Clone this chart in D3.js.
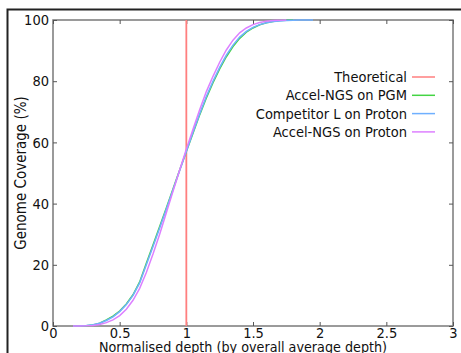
<!DOCTYPE html>
<html>
<head>
<meta charset="utf-8">
<script src="https://cdn.jsdelivr.net/npm/d3@7"></script>
<style>
  html, body { margin: 0; padding: 0; background: #fff; }
  svg { display: block; }
  text { font-family: "DejaVu Sans Condensed", "DejaVu Sans", sans-serif; font-stretch: condensed; fill: #111; }
</style>
</head>
<body>
<svg id="chart" width="461" height="353"></svg>
<script>
// Normalised depth samples for each run
const depthPGM = [0.15,0.2,0.25,0.3,0.35,0.4,0.45,0.5,0.55,0.6,0.65,0.7,0.75,0.8,0.85,0.9,0.95,1.0,1.05,1.1,1.15,1.2,1.25,1.3,1.35,1.4,1.45,1.5,1.55,1.6,1.65,1.7,1.75,1.8];
const coveragePGM = [0,0.05,0.12,0.35,0.9,2.0,3.2,4.9,7.2,10.2,14.4,20.5,26.5,32.5,38.6,44.8,51,57,63,69,74.5,79.5,84,88,91.3,94,96,97.4,98.4,99.1,99.5,99.8,99.95,100];

const depthCompetitor = [0.15,0.2,0.25,0.3,0.35,0.4,0.45,0.5,0.55,0.6,0.65,0.7,0.75,0.8,0.85,0.9,0.95,1.0,1.05,1.1,1.15,1.2,1.25,1.3,1.35,1.4,1.45,1.5,1.55,1.6,1.65,1.7,1.75,1.8,1.85,1.9,1.95];
const coverageCompetitor = [0,0.05,0.15,0.4,0.9,1.8,3.0,4.7,7.0,10,14.1,20,26,32,38.2,44.5,50.8,57,63.3,69.3,75,80,84.5,88.5,91.8,94.4,96.3,97.6,98.5,99.1,99.5,99.7,99.85,99.93,99.97,100,100];

const depthProton = [0.15,0.2,0.25,0.3,0.35,0.4,0.45,0.5,0.55,0.6,0.65,0.7,0.75,0.8,0.85,0.9,0.95,1.0,1.05,1.1,1.15,1.2,1.25,1.3,1.35,1.4,1.45,1.5,1.55,1.6,1.65,1.7,1.75];
const coverageProton = [0,0.02,0.06,0.18,0.5,1.1,2.0,3.4,5.5,8.4,12.3,17.5,23.5,30,37,44,51,57.8,64.3,70.7,76.6,81.6,86.2,90.2,93.4,95.8,97.4,98.5,99.2,99.6,99.85,99.95,100];

const theoreticalDepth = 1.0;

const seriesNames = ["Theoretical", "Accel-NGS on PGM", "Competitor L on Proton", "Accel-NGS on Proton"];
const seriesColors = ["#ff7f7f", "#44d444", "#6fb0ff", "#dd80ff"];

const xTicks = [0, 0.5, 1, 1.5, 2, 2.5, 3];
const xTickLabels = ["0", "0.5", "1", "1.5", "2", "2.5", "3"];
const yTicks = [0, 20, 40, 60, 80, 100];

const svg = d3.select("#chart");
const W = 461, H = 353;
const plot = { left: 53, top: 20, right: 453, bottom: 326 };

const x = d3.scaleLinear().domain([0, 3]).range([plot.left, plot.right]);
const y = d3.scaleLinear().domain([0, 100]).range([plot.bottom, plot.top]);

// outer figure frame
svg.append("rect")
  .attr("x", 7.5).attr("y", 9.5)
  .attr("width", W).attr("height", H)
  .attr("fill", "none").attr("stroke", "#222").attr("stroke-width", 2);

// axis frame with inward ticks on all four sides
const frame = svg.append("g");
frame.append("rect")
  .attr("x", plot.left).attr("y", plot.top)
  .attr("width", plot.right - plot.left).attr("height", plot.bottom - plot.top)
  .attr("fill", "none").attr("stroke", "#7a7a7a").attr("stroke-width", 1.5);

const fmt = d => xTickLabels[xTicks.indexOf(d)];

const xBottom = svg.append("g").attr("transform", `translate(0,${plot.bottom})`)
  .call(d3.axisBottom(x).tickValues(xTicks).tickFormat(fmt).tickSizeInner(-4).tickSizeOuter(0).tickPadding(3));
const xTop = svg.append("g").attr("transform", `translate(0,${plot.top})`)
  .call(d3.axisTop(x).tickValues(xTicks).tickFormat("").tickSizeInner(-4).tickSizeOuter(0));
const yLeft = svg.append("g").attr("transform", `translate(${plot.left},0)`)
  .call(d3.axisLeft(y).tickValues(yTicks).tickSizeInner(-4).tickSizeOuter(0).tickPadding(4));
const yRight = svg.append("g").attr("transform", `translate(${plot.right},0)`)
  .call(d3.axisRight(y).tickValues(yTicks).tickFormat("").tickSizeInner(-4).tickSizeOuter(0));

[xBottom, xTop, yLeft, yRight].forEach(g => {
  g.select(".domain").remove();
  g.selectAll(".tick line").attr("stroke", "#555").attr("stroke-width", 1);
  g.selectAll(".tick text").attr("font-size", 14.5).attr("fill", "#111")
    .style("font-family", '"DejaVu Sans Condensed", "DejaVu Sans", sans-serif');
});
xBottom.selectAll(".tick text").attr("dy", "0.62em");
yLeft.selectAll(".tick text").attr("dy", "0.32em");

// axis titles
svg.append("text")
  .attr("x", 243).attr("y", 351.5)
  .attr("text-anchor", "middle").attr("font-size", 14.2)
  .text("Normalised depth (by overall average depth)");
svg.append("text")
  .attr("transform", `translate(26,${(plot.top + plot.bottom) / 2}) rotate(-90)`)
  .attr("text-anchor", "middle").attr("font-size", 15)
  .text("Genome Coverage (%)");

// curves
const line = d3.line().x(d => x(d[0])).y(d => y(d[1]));
const curves = [
  { depth: depthPGM, cov: coveragePGM, color: seriesColors[1] },
  { depth: depthCompetitor, cov: coverageCompetitor, color: seriesColors[2] },
  { depth: depthProton, cov: coverageProton, color: seriesColors[3] }
];

// theoretical step at depth 1
svg.append("line")
  .attr("x1", x(theoreticalDepth)).attr("x2", x(theoreticalDepth))
  .attr("y1", y(0)).attr("y2", y(100))
  .attr("stroke", seriesColors[0]).attr("stroke-width", 1.8);

curves.forEach(c => {
  svg.append("path")
    .datum(c.depth.map((d, i) => [d, c.cov[i]]))
    .attr("d", line)
    .attr("fill", "none")
    .attr("stroke", c.color)
    .attr("stroke-width", 1.5);
});

// legend: right-aligned labels with line samples
const legend = svg.append("g");
seriesNames.forEach((name, i) => {
  const ly = 77 + i * 18.3;
  legend.append("text")
    .attr("x", 407).attr("y", ly).attr("dy", "0.35em")
    .attr("text-anchor", "end").attr("font-size", 14.5)
    .text(name);
  legend.append("line")
    .attr("x1", 412).attr("x2", 435)
    .attr("y1", ly).attr("y2", ly)
    .attr("stroke", seriesColors[i]).attr("stroke-width", 1.5);
});
</script>
</body>
</html>
